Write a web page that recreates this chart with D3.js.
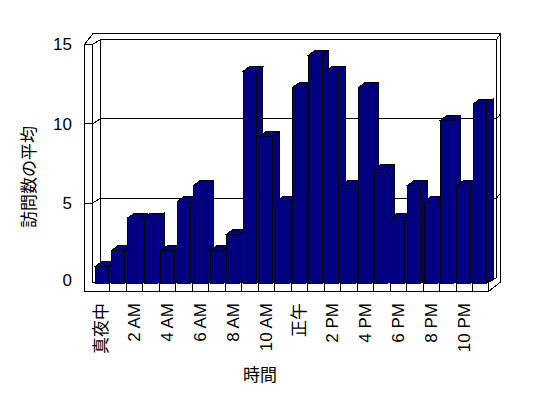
<!DOCTYPE html>
<html>
<head>
<meta charset="utf-8">
<script src="https://cdn.jsdelivr.net/npm/d3@7/dist/d3.min.js"></script>
<style>
    body { margin: 0; background: #fff; }
    text { font-family: "Liberation Sans", Arial, "Noto Sans CJK JP", sans-serif; fill: #000; }
    .cjk { font-family: "Noto Sans CJK JP", sans-serif; }
</style>
</head>
<body>
<svg id="chart" width="548" height="398"></svg>
<script>
// hours of the day (0 = midnight)
var hours = [0, 1, 2, 3, 4, 5, 6, 7, 8, 9, 10, 11, 12, 13, 14, 15, 16, 17, 18, 19, 20, 21, 22, 23];
// average number of visits per hour
var visits = [1, 2, 4, 4, 2, 5, 6, 2, 3, 13, 9, 5, 12, 14, 13, 6, 12, 7, 4, 6, 5, 10, 6, 11];
// label shown under every second hour
var hourLabels = ["真夜中", "2 AM", "4 AM", "6 AM", "8 AM", "10 AM", "正午", "2 PM", "4 PM", "6 PM", "8 PM", "10 PM"];
var yTicks = [0, 5, 10, 15];

var svg = d3.select("#chart");

/* frame layout */
var left = 84.5, wallX = 92.5, right = 488.5;
var floorY = 282.5, baseY = 291.5, topY = 44.5;
var outerTop = 33.5, outerRight = 500.5;
var depth = {x: 8, y: -5};
var barDepth = {x: 6.5, y: -4.8};
var innerRight = right + depth.x;

var xCat = d3.scaleBand().domain(hours).range([wallX, right]);
var xBar = d3.scaleBand().domain(hours).range([95, 486.7]).paddingInner(0.19);
var yFront = d3.scaleLinear().domain([0, 15]).range([floorY, topY]);
var yBar = d3.scaleLinear().domain([0, 15]).range([283, 38.8]);

var frame = svg.append("g")
    .attr("fill", "none")
    .attr("stroke", "#000")
    .attr("stroke-width", 1)
    .attr("shape-rendering", "crispEdges");

// outline of the box
frame.append("path")
    .attr("fill", "#fff")
    .attr("d", "M" + left + "," + baseY + "V" + topY + "L93," + outerTop +
        "H" + outerRight + "V282L" + right + "," + baseY + "Z");

// front face of wall and floor
frame.append("path")
    .attr("d", "M" + left + "," + topY + "H" + wallX + "V" + floorY + "H" + right + "V" + baseY);

// back wall edges
frame.append("path")
    .attr("d", "M" + wallX + "," + topY + "L" + (wallX + depth.x) + "," + (topY + depth.y) +
        "H" + innerRight + "L" + outerRight + "," + outerTop +
        "M" + (wallX + depth.x) + "," + (topY + depth.y) + "V" + (floorY + depth.y) +
        "M" + innerRight + "," + (topY + depth.y) + "V" + (floorY + depth.y) +
        "L" + right + "," + floorY);

// gridlines and value ticks
frame.selectAll(".grid")
    .data(yTicks.filter(function (d) { return d > 0 && d < 15; }))
    .enter().append("path")
    .attr("class", "grid")
    .attr("d", function (d) {
        var yf = yFront(d), yb = yFront(d) + depth.y;
        return "M" + left + "," + yf + "H" + wallX + "L" + (wallX + depth.x) + "," + yb +
            "H" + innerRight + "L" + outerRight + "," + (yb - 5);
    });

// category ticks on the floor front
frame.selectAll(".xtick")
    .data(hours.slice(1))
    .enter().append("line")
    .attr("class", "xtick")
    .attr("x1", function (d) { return Math.round(xCat(d)) + 0.5; })
    .attr("x2", function (d) { return Math.round(xCat(d)) + 0.5; })
    .attr("y1", floorY)
    .attr("y2", baseY);

/* bars */
var bars = svg.append("g")
    .attr("fill", "#000080")
    .attr("stroke", "#000")
    .attr("stroke-width", 1)
    .attr("shape-rendering", "crispEdges");

hours.forEach(function (h, i) {
    var x0 = xBar(h), w = xBar.bandwidth();
    var yt = yBar(visits[i]), yb = yBar(0);
    var g = bars.append("g");

    g.append("polygon")
        .attr("points", [
            [x0 + w, yt], [x0 + w + barDepth.x, yt + barDepth.y],
            [x0 + w + barDepth.x, yb + barDepth.y], [x0 + w, yb]
        ].join(" "));

    g.append("polygon")
        .attr("points", [
            [x0, yt], [x0 + barDepth.x, yt + barDepth.y],
            [x0 + w + barDepth.x, yt + barDepth.y], [x0 + w, yt]
        ].join(" "));

    g.append("rect")
        .attr("x", x0)
        .attr("y", yt)
        .attr("width", w)
        .attr("height", yb - yt);
});

/* value labels */
svg.append("g")
    .selectAll("text")
    .data(yTicks)
    .enter().append("text")
    .attr("x", 72)
    .attr("y", function (d) { return d === 0 ? yFront(d) - 2 : yFront(d); })
    .attr("dy", "0.35em")
    .attr("text-anchor", "end")
    .attr("font-size", 17)
    .text(function (d) { return d; });

/* hour labels */
svg.append("g")
    .selectAll("text")
    .data(hourLabels)
    .enter().append("text")
    .attr("transform", function (d, i) {
        var h = hours[i * 2];
        return "translate(" + (xCat(h) + xCat.bandwidth() / 2) + ",303) rotate(-90)";
    })
    .attr("dy", "0.35em")
    .attr("text-anchor", "end")
    .attr("font-size", 17)
    .text(function (d) { return d; });

/* axis titles */
svg.append("text")
    .attr("class", "cjk")
    .attr("transform", "translate(29,177) rotate(-90)")
    .attr("dy", "0.35em")
    .attr("text-anchor", "middle")
    .attr("font-size", 17)
    .text("訪問数の平均");

svg.append("text")
    .attr("class", "cjk")
    .attr("x", 260)
    .attr("y", 375)
    .attr("dy", "0.35em")
    .attr("text-anchor", "middle")
    .attr("font-size", 17)
    .text("時間");
</script>
</body>
</html>
